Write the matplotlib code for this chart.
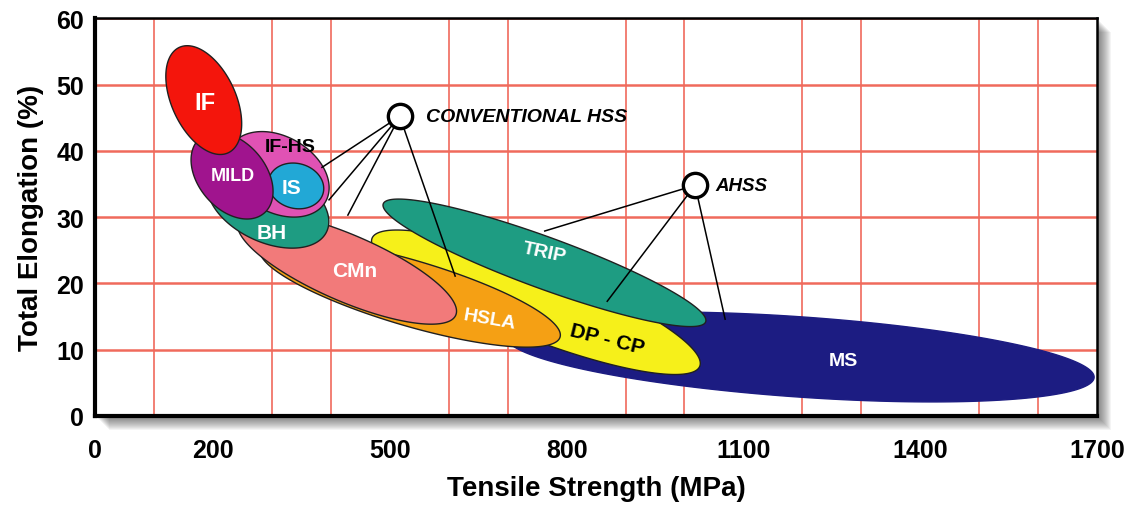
import numpy as np
import matplotlib.pyplot as plt
from matplotlib.patches import Rectangle

plt.rcParams['font.family'] = ['Liberation Sans', 'DejaVu Sans']

# steel families, drawn bottom to top
grades = ['MS', 'DP - CP', 'TRIP', 'HSLA', 'CMn', 'BH', 'IF-HS', 'IS', 'MILD', 'IF']
# ends of each ellipse's long axis (tensile strength MPa, elongation %)
ts_start = [697, 470, 489, 280, 243, 194, 230, 295, 178, 143]
el_start = [12.0, 26.8, 32.0, 25.2, 29.4, 36.1, 40.6, 35.8, 41.9, 55.6]
ts_end = [1695, 1026, 1036, 789, 612, 393, 391, 387, 287, 226]
el_end = [5.8, 7.5, 14.2, 11.9, 15.2, 27.8, 32.3, 33.6, 30.6, 39.7]
width_ratio = [0.136, 0.205, 0.15, 0.21, 0.28, 0.585, 0.69, 0.8, 0.68, 0.55]
label_ts = [1269, 869, 763, 670, 441, 300, 331, 334, 234, 187]
label_el = [8.3, 11.6, 24.7, 14.6, 21.9, 27.7, 40.7, 34.5, 36.2, 47.3]

# annotation hubs and where their leader lines land
conv_hss = (517, 45.2)
conv_targets_ts = [385, 397, 429, 611]
conv_targets_el = [37.5, 32.6, 30.3, 21.1]
ahss = (1018, 34.8)
ahss_targets_ts = [763, 869, 1069]
ahss_targets_el = [27.9, 17.3, 14.6]

x_ticks = [0, 200, 500, 800, 1100, 1400, 1700]
y_ticks = [0, 10, 20, 30, 40, 50, 60]

fills = ['#1c1c82', '#f6f01a', '#1e9c82', '#f5a014', '#f27a7a',
         '#1e9c82', '#e052b4', '#22a8d6', '#a0148e', '#f4150c']
text_colors = ['white', 'black', 'white', 'white', 'white',
               'white', 'black', 'white', 'white', 'white']
text_sizes = [14, 15, 14, 14, 15, 15, 14, 15, 13, 17]
text_rot = [0, -14, -12, -10, 0, 0, 0, 0, 0, 0]
grid_red = '#f06a5c'

fig = plt.figure(figsize=(11.31, 5.06), dpi=100)
ax = fig.add_axes([0.084, 0.176, 0.886, 0.786])
ax.set_xlim(0, 1700)
ax.set_ylim(0, 60)


def ellipse_points(p1, p2, ratio, n=240):
    # build the ellipse in screen space so it keeps its look, then map back
    d1 = ax.transData.transform(p1)
    d2 = ax.transData.transform(p2)
    c = (d1 + d2) / 2
    u = (d2 - d1) / 2
    v = np.array([-u[1], u[0]]) * ratio
    t = np.linspace(0, 2 * np.pi, n)
    pts = c + np.outer(np.cos(t), u) + np.outer(np.sin(t), v)
    return ax.transData.inverted().transform(pts)


for i, name in enumerate(grades):
    pts = ellipse_points((ts_start[i], el_start[i]), (ts_end[i], el_end[i]),
                         width_ratio[i])
    edge = fills[i] if name == 'MS' else '#202020'
    ax.fill(pts[:, 0], pts[:, 1], facecolor=fills[i], edgecolor=edge,
            lw=1.0, zorder=3 + i)
    ax.text(label_ts[i], label_el[i], name, color=text_colors[i],
            fontsize=text_sizes[i], fontweight='bold', rotation=text_rot[i],
            ha='center', va='center', zorder=20)

for tx, ty in zip(conv_targets_ts, conv_targets_el):
    ax.plot([conv_hss[0], tx], [conv_hss[1], ty], color='black', lw=1.1, zorder=25)
for tx, ty in zip(ahss_targets_ts, ahss_targets_el):
    ax.plot([ahss[0], tx], [ahss[1], ty], color='black', lw=1.1, zorder=25)
for hub in [conv_hss, ahss]:
    ax.plot(hub[0], hub[1], 'o', ms=17.5, mfc='white', mec='black', mew=2.4, zorder=26)
ax.text(conv_hss[0] + 44, conv_hss[1], 'CONVENTIONAL HSS', fontsize=14,
        fontweight='bold', fontstyle='italic', ha='left', va='center', zorder=26)
ax.text(ahss[0] + 34, ahss[1], 'AHSS', fontsize=13.5, fontweight='bold',
        fontstyle='italic', ha='left', va='center', zorder=26)

# grid
ax.set_xticks(np.arange(0, 1701, 100), minor=True)
ax.set_xticks(x_ticks, [str(v) for v in x_ticks], fontsize=18, fontweight='bold')
ax.set_yticks(y_ticks, [str(v) for v in y_ticks], fontsize=18, fontweight='bold')
ax.grid(which='minor', axis='x', color=grid_red, lw=1.2)
ax.grid(which='major', axis='y', color=grid_red, lw=1.8)
ax.set_axisbelow(True)
ax.tick_params(which='both', length=0)
ax.tick_params(axis='x', pad=16)
ax.tick_params(axis='y', pad=8)

for side in ['left', 'bottom']:
    ax.spines[side].set_linewidth(3)
for side in ['top', 'right']:
    ax.spines[side].set_linewidth(1.8)
for sp in ax.spines.values():
    sp.set_zorder(30)

ax.set_xlabel('Tensile Strength (MPa)', fontsize=20, fontweight='bold', labelpad=9)
ax.set_ylabel('Total Elongation (%)', fontsize=20, fontweight='bold', labelpad=9)

# soft drop shadow to the lower right of the plot box
pos = ax.get_position()
for k in range(1, 15):
    dx = k / 1131
    dy = k / 506
    fig.add_artist(Rectangle((pos.x0 + dx, pos.y0 - dy), pos.width, pos.height,
                             transform=fig.transFigure, facecolor='black',
                             edgecolor='none', alpha=0.045, zorder=-5))

fig.savefig('out.png', dpi=100)
